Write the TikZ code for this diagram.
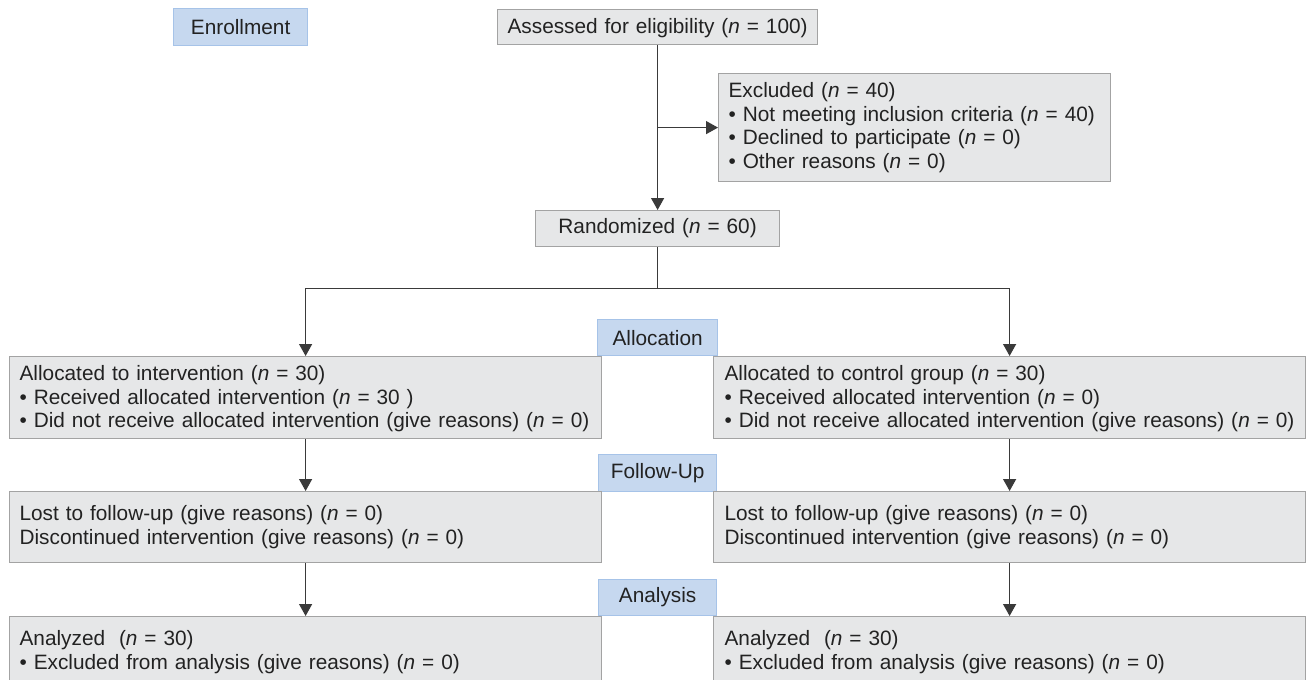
\documentclass[tikz,border=0pt]{standalone}
\usepackage{fontspec}
\setmainfont{Liberation Sans}
\usetikzlibrary{arrows.meta, positioning}
\definecolor{boxfill}{HTML}{E6E7E8}
\definecolor{boxline}{HTML}{A3A3A3}
\definecolor{stagefill}{HTML}{C6D8EF}
\definecolor{stageline}{HTML}{A6C3E8}
\definecolor{flowline}{HTML}{3A3A3A}
\definecolor{inktext}{HTML}{222222}
\newcommand{\flowfont}{\fontsize{20.8pt}{23.5pt}\selectfont\hyphenpenalty=10000}
\newcommand{\nn}{\textit{n}}
\tikzset{
  stage/.style={draw=stageline, fill=stagefill, line width=1.2pt, anchor=north west,
    inner sep=0pt, font=\flowfont, text=inktext},
  infobox/.style={draw=boxline, fill=boxfill, line width=1.2pt, anchor=north west,
    inner xsep=10pt, inner ysep=0pt, align=left, font=\flowfont, text=inktext},
  flow/.style={draw=flowline, line width=1.3pt, -{Triangle[width=13pt,length=12pt]}}
}
\begin{document}
\begin{tikzpicture}[x=1pt, y=-1pt]
\useasboundingbox (0,0) rectangle (1307,680);
\clip (0,0) rectangle (1307,680);

% stage labels
\node[stage, minimum width=134, minimum height=37] (enroll) at (173,8) {Enrollment};
\node[stage, minimum width=120, minimum height=36] (alloc) at (597,319) {Allocation};
\node[stage, minimum width=118, minimum height=37] (follow) at (598,454) {Follow-Up};
\node[stage, minimum width=118, minimum height=36] (analysis) at (598,579) {Analysis};

% enrollment
\node[infobox, align=center, inner xsep=4pt, text width=312, text height=24, text depth=11] (assess) at (497,9)
  {Assessed for eligibility (\nn{} = 100)};
\node[infobox, text width=372, text height=24, text depth=84] (excl) at (718,73)
  {Excluded (\nn{} = 40)\\
   • Not meeting inclusion criteria (\nn{} = 40)\\
   • Declined to participate (\nn{} = 0)\\
   • Other reasons (\nn{} = 0)};
\node[infobox, align=center, text width=224, text height=23, text depth=13] (rand) at (535,210)
  {Randomized (\nn{} = 60)};

% allocation
\node[infobox, text width=572, text height=24, text depth=58] (allocL) at (9,356)
  {Allocated to intervention (\nn{} = 30)\\
   • Received allocated intervention (\nn{} = 30 )\\
   • Did not receive allocated intervention (give reasons) (\nn{} = 0)};
\node[infobox, inner xsep=11pt, text width=570, text height=24, text depth=58] (allocR) at (713,356)
  {Allocated to control group (\nn{} = 30)\\
   • Received allocated intervention (\nn{} = 0)\\
   • Did not receive allocated intervention (give reasons) (\nn{} = 0)};

% follow-up
\node[infobox, text width=572, text height=29, text depth=42] (lostL) at (9,491)
  {Lost to follow-up (give reasons) (\nn{} = 0)\\
   Discontinued intervention (give reasons) (\nn{} = 0)};
\node[infobox, inner xsep=11pt, text width=570, text height=29, text depth=42] (lostR) at (713,491)
  {Lost to follow-up (give reasons) (\nn{} = 0)\\
   Discontinued intervention (give reasons) (\nn{} = 0)};

% analysis
\node[infobox, text width=572, text height=29, text depth=60] (anaL) at (9,616)
  {Analyzed\ \ (\nn{} = 30)\\
   • Excluded from analysis (give reasons) (\nn{} = 0)};
\node[infobox, inner xsep=11pt, text width=570, text height=29, text depth=60] (anaR) at (713,616)
  {Analyzed\ \ (\nn{} = 30)\\
   • Excluded from analysis (give reasons) (\nn{} = 0)};

% connectors
\draw[flow] (assess.south) -- (rand.north);
\draw[flow] (assess.south |- excl.west) -- (excl.west);
\draw[draw=flowline, line width=1.3pt] (rand.south) -- ++(0,41) coordinate (split);
\draw[flow] (split) -| (allocL.north);
\draw[flow] (split) -| (allocR.north);
\draw[flow] (allocL.south) -- (lostL.north);
\draw[flow] (allocR.south) -- (lostR.north);
\draw[flow] (lostL.south) -- (anaL.north);
\draw[flow] (lostR.south) -- (anaR.north);
\end{tikzpicture}
\end{document}
